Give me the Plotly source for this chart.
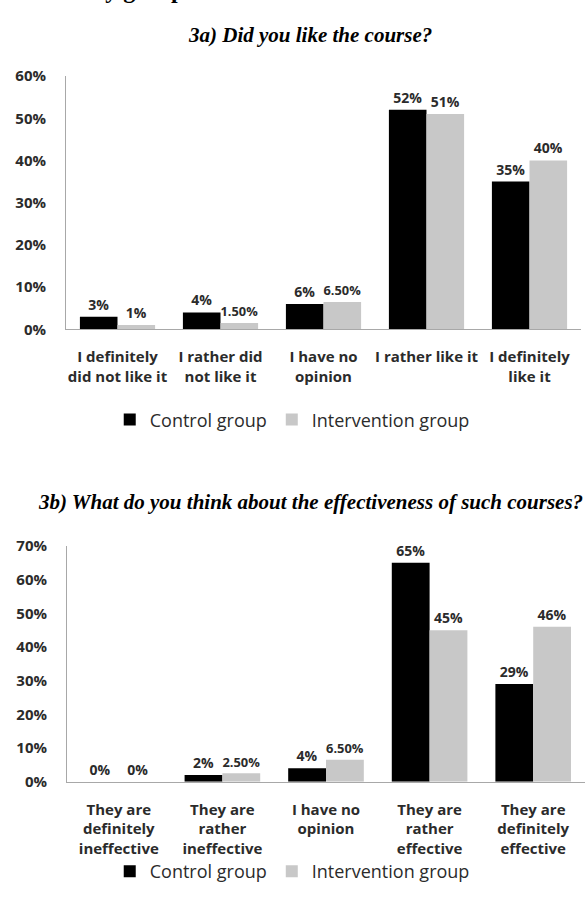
import plotly.graph_objects as go

W, H = 588, 909

# --- data -----------------------------------------------------------------
series_names = ["Control group", "Intervention group"]

like_categories = [
    "I definitely<br>did not like it",
    "I rather did<br>not like it",
    "I have no<br>opinion",
    "I rather like it",
    "I definitely<br>like it",
]
like_control = [0.03, 0.04, 0.06, 0.52, 0.35]
like_intervention = [0.01, 0.015, 0.065, 0.51, 0.40]
like_ticks = [0.0, 0.1, 0.2, 0.3, 0.4, 0.5, 0.6]

eff_categories = [
    "They are<br>definitely<br>ineffective",
    "They are<br>rather<br>ineffective",
    "I have no<br>opinion",
    "They are<br>rather<br>effective",
    "They are<br>definitely<br>effective",
]
eff_control = [0.0, 0.02, 0.04, 0.65, 0.29]
eff_intervention = [0.0, 0.025, 0.065, 0.45, 0.46]
eff_ticks = [0.0, 0.1, 0.2, 0.3, 0.4, 0.5, 0.6, 0.7]

# --- styling ----------------------------------------------------------------
BLACK = "#000000"
GREY = "#c8c8c8"
TEXT = "#2b2b2b"
AXIS = "#a8a8a8"
SANS = "Open Sans"
SERIF = "Liberation Serif"


def px_x(x):
    return x / W


def px_y(y):
    return 1 - y / H


def pct_label(v):
    p = v * 100
    if abs(p - round(p)) < 1e-9:
        return f"{int(round(p))}%"
    return f"{p:.2f}%"


def pct_tick(v):
    return f"{int(round(v * 100))}%"


fig = go.Figure()

panels = [
    dict(cats=like_categories, vals=(like_control, like_intervention),
         xa="x", ya="y", legend="legend"),
    dict(cats=eff_categories, vals=(eff_control, eff_intervention),
         xa="x2", ya="y2", legend="legend2"),
]

for panel in panels:
    for name, vals, color in zip(series_names, panel["vals"], (BLACK, GREY)):
        fig.add_trace(go.Bar(
            x=panel["cats"],
            y=vals,
            name=name,
            marker=dict(color=color, line=dict(width=0)),
            text=[pct_label(v) for v in vals],
            textposition="outside",
            textfont=dict(family=SANS, size=14, color=TEXT, weight="bold"),
            cliponaxis=False,
            xaxis=panel["xa"],
            yaxis=panel["ya"],
            legend=panel["legend"],
            hoverinfo="skip",
        ))

common_x = dict(
    type="category",
    showgrid=False,
    showline=True,
    linecolor=AXIS,
    linewidth=1,
    ticks="outside",
    ticklen=0,
    tickfont=dict(family=SANS, size=15, color=TEXT, weight="bold"),
    ticklabelstandoff=14,
    zeroline=False,
    fixedrange=True,
)
common_y = dict(
    showgrid=False,
    showline=True,
    linecolor=AXIS,
    linewidth=1,
    ticks="",
    tickfont=dict(family=SANS, size=15, color=TEXT, weight="bold"),
    ticklabelstandoff=16,
    zeroline=False,
    fixedrange=True,
)

legend_common = dict(
    orientation="h", x=0.497, xanchor="center", yanchor="middle",
    font=dict(family=SANS, size=18, color=TEXT),
    bgcolor="rgba(0,0,0,0)", itemclick=False, itemdoubleclick=False,
)

fig.update_layout(
    width=W,
    height=H,
    margin=dict(l=0, r=0, t=0, b=0),
    paper_bgcolor="white",
    plot_bgcolor="white",
    barmode="group",
    bargap=0.27,
    bargroupgap=0.0,
    xaxis=dict(common_x, domain=[px_x(66), px_x(581)], anchor="y"),
    yaxis=dict(common_y, domain=[px_y(325.5), px_y(66.5)], anchor="x",
               range=[0, 0.6], tickvals=like_ticks,
               ticktext=[pct_tick(v) for v in like_ticks]),
    xaxis2=dict(common_x, domain=[px_x(67), px_x(585)], anchor="y2"),
    yaxis2=dict(common_y, domain=[px_y(788), px_y(547)], anchor="x2",
                range=[0, 0.7], tickvals=eff_ticks,
                ticktext=[pct_tick(v) for v in eff_ticks]),
    legend=dict(legend_common, y=px_y(418)),
    legend2=dict(legend_common, y=px_y(880)),
    showlegend=True,
)

# Panel titles and the tail of the figure caption above them
fig.add_annotation(
    text="by group", xref="paper", yref="paper",
    x=px_x(90), xanchor="left", y=1, yanchor="bottom", yshift=6,
    showarrow=False, font=dict(family=SERIF, size=24, color="#000000", weight="bold"),
)
fig.add_annotation(
    text="<b><i>3a) Did you like the course?</i></b>", xref="paper", yref="paper",
    x=px_x(310), xanchor="center", y=px_y(25), yanchor="middle",
    showarrow=False, font=dict(family=SERIF, size=21, color="#000000"),
)
fig.add_annotation(
    text="<b><i>3b) What do you think about the effectiveness of such courses?</i></b>",
    xref="paper", yref="paper",
    x=px_x(310), xanchor="center", y=px_y(502), yanchor="middle",
    showarrow=False, font=dict(family=SERIF, size=21, color="#000000"),
)

fig.write_html("out.html")
